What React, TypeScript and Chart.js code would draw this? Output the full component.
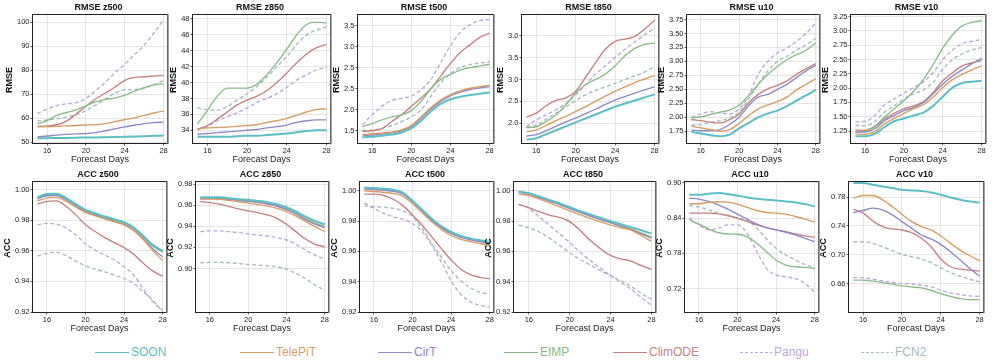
import React, { useEffect, useRef } from "react";
import { Chart, registerables } from "chart.js";

Chart.register(...registerables);

// ---------------- data ----------------
const DAYS = [15, 16, 17, 18, 19, 20, 21, 22, 23, 24, 25, 26, 27, 28];
const X_TICKS = [16, 20, 24, 28];
const MODELS = ["SOON", "TelePiT", "CirT", "EIMP", "ClimODE", "Pangu", "FCN2"];

// series order in every panel: SOON, TelePiT, CirT, EIMP, ClimODE, Pangu, FCN2
const RMSE_Z500 = [
  [51.7, 51.7, 51.8, 51.8, 51.9, 52.0, 52.0, 52.1, 52.2, 52.3, 52.4, 52.5, 52.7, 52.8],
  [56.4, 56.5, 56.6, 56.8, 57.0, 57.2, 57.3, 57.8, 58.6, 59.4, 60.2, 61.2, 62.2, 63.0],
  [52.2, 52.6, 53.0, 53.3, 53.5, 53.6, 54.0, 54.8, 55.6, 56.4, 57.1, 57.8, 58.2, 58.4],
  [57.6, 59.0, 61.2, 62.4, 63.5, 65.2, 66.8, 67.9, 68.4, 69.6, 71.3, 72.8, 73.9, 74.3],
  [56.6, 56.8, 57.3, 58.8, 61.8, 65.0, 68.0, 70.5, 73.0, 75.8, 77.0, 77.3, 77.6, 77.8],
  [62.0, 63.8, 65.3, 66.0, 66.5, 68.3, 71.5, 75.0, 79.0, 82.5, 86.5, 90.5, 95.5, 101.0],
  [58.8, 59.3, 59.8, 60.5, 61.5, 63.2, 65.5, 68.0, 70.5, 71.8, 72.0, 72.5, 74.0, 75.8],
];
const RMSE_Z850 = [
  [33.2, 33.2, 33.2, 33.2, 33.25, 33.3, 33.3, 33.4, 33.5, 33.6, 33.75, 33.9, 34.0, 34.0],
  [34.2, 34.3, 34.35, 34.4, 34.5, 34.6, 34.7, 35.0, 35.2, 35.5, 35.9, 36.3, 36.6, 36.7],
  [33.5, 33.6, 33.7, 33.8, 33.9, 34.0, 34.1, 34.3, 34.45, 34.65, 35.0, 35.2, 35.3, 35.3],
  [34.8, 36.5, 38.3, 39.3, 39.3, 39.3, 39.8, 41.0, 42.5, 44.2, 46.0, 47.3, 47.6, 47.5],
  [34.1, 34.6, 35.4, 36.3, 37.2, 37.8, 38.3, 39.0, 40.0, 41.2, 42.5, 43.6, 44.4, 44.8],
  [34.1, 34.5, 35.2, 35.7, 36.2, 36.8, 37.5, 38.0, 38.6, 39.4, 40.3, 41.0, 41.6, 41.9],
  [36.8, 36.6, 36.5, 37.0, 37.8, 38.6, 39.5, 40.7, 42.0, 43.3, 44.8, 46.0, 46.6, 47.0],
];
const RMSE_T500 = [
  [1.34, 1.36, 1.38, 1.41, 1.46, 1.56, 1.74, 1.96, 2.14, 2.25, 2.31, 2.35, 2.38, 2.41],
  [1.41, 1.43, 1.45, 1.47, 1.52, 1.63, 1.83, 2.05, 2.23, 2.36, 2.45, 2.51, 2.55, 2.58],
  [1.38, 1.40, 1.42, 1.45, 1.50, 1.60, 1.80, 2.02, 2.20, 2.33, 2.42, 2.48, 2.52, 2.55],
  [1.60, 1.67, 1.76, 1.83, 1.88, 1.98, 2.20, 2.50, 2.72, 2.84, 2.94, 3.00, 3.04, 3.08],
  [1.48, 1.50, 1.55, 1.72, 1.88, 2.08, 2.28, 2.50, 2.80, 3.10, 3.36, 3.54, 3.72, 3.82],
  [1.64, 1.88, 2.08, 2.22, 2.27, 2.32, 2.48, 2.72, 3.12, 3.52, 3.84, 4.02, 4.12, 4.14],
  [1.51, 1.52, 1.56, 1.62, 1.72, 1.83, 2.00, 2.32, 2.64, 2.86, 3.00, 3.07, 3.11, 3.14],
];
const RMSE_T850 = [
  [1.63, 1.66, 1.75, 1.84, 1.93, 2.02, 2.11, 2.20, 2.29, 2.38, 2.45, 2.52, 2.59, 2.66],
  [1.81, 1.85, 1.95, 2.06, 2.16, 2.27, 2.38, 2.50, 2.62, 2.73, 2.83, 2.93, 3.01, 3.09],
  [1.71, 1.74, 1.83, 1.93, 2.03, 2.12, 2.22, 2.32, 2.43, 2.53, 2.61, 2.69, 2.76, 2.83],
  [1.90, 1.92, 2.04, 2.19, 2.42, 2.69, 2.88, 3.00, 3.12, 3.31, 3.54, 3.71, 3.80, 3.83],
  [2.14, 2.23, 2.40, 2.52, 2.58, 2.73, 3.05, 3.38, 3.69, 3.87, 3.92, 3.98, 4.15, 4.35],
  [1.92, 2.08, 2.19, 2.31, 2.45, 2.65, 2.88, 3.12, 3.31, 3.50, 3.69, 3.86, 4.02, 4.17],
  [1.90, 1.96, 2.09, 2.23, 2.37, 2.52, 2.65, 2.75, 2.83, 2.91, 3.00, 3.08, 3.17, 3.29],
];
const RMSE_U10 = [
  [1.74, 1.71, 1.68, 1.66, 1.69, 1.80, 1.90, 2.00, 2.07, 2.12, 2.20, 2.30, 2.39, 2.49],
  [1.84, 1.81, 1.78, 1.75, 1.78, 1.89, 2.03, 2.15, 2.22, 2.28, 2.36, 2.49, 2.59, 2.69],
  [1.77, 1.76, 1.76, 1.78, 1.87, 2.00, 2.21, 2.36, 2.41, 2.50, 2.59, 2.71, 2.83, 2.93],
  [1.99, 2.01, 2.05, 2.09, 2.13, 2.22, 2.39, 2.59, 2.77, 2.91, 3.03, 3.12, 3.20, 3.33],
  [1.96, 1.94, 1.91, 1.90, 1.96, 2.06, 2.26, 2.41, 2.51, 2.57, 2.65, 2.77, 2.87, 2.96],
  [2.00, 2.06, 2.10, 2.08, 2.06, 2.15, 2.39, 2.77, 3.00, 3.15, 3.24, 3.36, 3.50, 3.69],
  [1.86, 1.87, 1.91, 1.94, 1.99, 2.09, 2.33, 2.59, 2.83, 3.00, 3.09, 3.20, 3.30, 3.41],
];
const RMSE_V10 = [
  [1.16, 1.16, 1.20, 1.32, 1.42, 1.47, 1.52, 1.57, 1.69, 1.85, 2.01, 2.09, 2.11, 2.13],
  [1.20, 1.19, 1.24, 1.38, 1.47, 1.56, 1.64, 1.71, 1.84, 2.01, 2.15, 2.24, 2.32, 2.39],
  [1.24, 1.23, 1.29, 1.43, 1.52, 1.61, 1.66, 1.75, 1.90, 2.07, 2.21, 2.32, 2.43, 2.52],
  [1.23, 1.24, 1.33, 1.49, 1.64, 1.78, 1.95, 2.15, 2.41, 2.70, 2.93, 3.09, 3.15, 3.18],
  [1.27, 1.26, 1.33, 1.46, 1.56, 1.64, 1.69, 1.76, 1.92, 2.13, 2.27, 2.39, 2.44, 2.48],
  [1.41, 1.42, 1.52, 1.71, 1.81, 1.91, 2.01, 2.11, 2.27, 2.50, 2.67, 2.78, 2.82, 2.85],
  [1.35, 1.34, 1.42, 1.58, 1.69, 1.81, 1.90, 1.97, 2.10, 2.33, 2.50, 2.60, 2.67, 2.71],
];
const ACC_Z500 = [
  [0.9951, 0.9971, 0.9973, 0.9945, 0.9905, 0.9868, 0.9846, 0.9824, 0.9807, 0.9787, 0.9752, 0.9697, 0.9638, 0.9599],
  [0.9927, 0.9945, 0.9949, 0.9923, 0.9886, 0.9851, 0.9829, 0.9809, 0.9789, 0.9770, 0.9732, 0.9672, 0.9600, 0.9536],
  [0.9940, 0.9960, 0.9962, 0.9934, 0.9893, 0.9855, 0.9833, 0.9811, 0.9793, 0.9772, 0.9735, 0.9678, 0.9612, 0.9561],
  [0.9946, 0.9966, 0.9968, 0.9940, 0.9900, 0.9862, 0.9840, 0.9818, 0.9801, 0.9780, 0.9745, 0.9690, 0.9630, 0.9590],
  [0.9905, 0.9923, 0.9927, 0.9890, 0.9835, 0.9770, 0.9726, 0.9686, 0.9653, 0.9621, 0.9577, 0.9518, 0.9467, 0.9434],
  [0.9770, 0.9780, 0.9774, 0.9748, 0.9704, 0.9645, 0.9605, 0.9572, 0.9540, 0.9496, 0.9441, 0.9353, 0.9266, 0.9211],
  [0.9566, 0.9583, 0.9590, 0.9568, 0.9533, 0.9502, 0.9480, 0.9463, 0.9441, 0.9419, 0.9386, 0.9331, 0.9277, 0.9200],
];
const ACC_Z850 = [
  [0.9673, 0.9676, 0.9676, 0.9667, 0.9657, 0.9651, 0.9641, 0.9629, 0.9610, 0.9581, 0.9540, 0.9492, 0.9451, 0.9419],
  [0.9657, 0.9657, 0.9655, 0.9645, 0.9632, 0.9619, 0.9606, 0.9591, 0.9570, 0.9540, 0.9497, 0.9446, 0.9396, 0.9349],
  [0.9663, 0.9665, 0.9664, 0.9655, 0.9644, 0.9636, 0.9625, 0.9611, 0.9590, 0.9558, 0.9514, 0.9464, 0.9420, 0.9387],
  [0.9668, 0.9671, 0.9670, 0.9661, 0.9650, 0.9643, 0.9632, 0.9619, 0.9599, 0.9568, 0.9525, 0.9475, 0.9432, 0.9397],
  [0.9635, 0.9625, 0.9610, 0.9587, 0.9565, 0.9546, 0.9530, 0.9508, 0.9476, 0.9419, 0.9349, 0.9279, 0.9229, 0.9206],
  [0.9349, 0.9356, 0.9356, 0.9349, 0.9340, 0.9327, 0.9317, 0.9308, 0.9292, 0.9270, 0.9229, 0.9175, 0.9127, 0.9086],
  [0.9054, 0.9057, 0.9057, 0.9054, 0.9048, 0.9038, 0.9032, 0.9025, 0.9016, 0.8994, 0.8952, 0.8905, 0.8841, 0.8794],
];
const ACC_T500 = [
  [1.0022, 1.0018, 1.0013, 1.0007, 0.9988, 0.9935, 0.9875, 0.9815, 0.9765, 0.9729, 0.9702, 0.9686, 0.9674, 0.9663],
  [1.0000, 0.9995, 0.9990, 0.9982, 0.9965, 0.9915, 0.9855, 0.9795, 0.9745, 0.9705, 0.9680, 0.9665, 0.9652, 0.9640],
  [1.0012, 1.0008, 1.0003, 0.9996, 0.9978, 0.9926, 0.9866, 0.9806, 0.9755, 0.9718, 0.9692, 0.9676, 0.9664, 0.9652],
  [1.0018, 1.0013, 1.0008, 1.0001, 0.9983, 0.9930, 0.9870, 0.9810, 0.9760, 0.9722, 0.9696, 0.9680, 0.9668, 0.9657],
  [0.9978, 0.9978, 0.9969, 0.9944, 0.9902, 0.9840, 0.9773, 0.9696, 0.9618, 0.9544, 0.9484, 0.9447, 0.9429, 0.9418],
  [0.9918, 0.9884, 0.9851, 0.9829, 0.9813, 0.9784, 0.9729, 0.9640, 0.9529, 0.9407, 0.9318, 0.9267, 0.9244, 0.9233],
  [0.9900, 0.9896, 0.9891, 0.9884, 0.9867, 0.9829, 0.9751, 0.9651, 0.9562, 0.9473, 0.9407, 0.9360, 0.9330, 0.9318],
];
const ACC_T850 = [
  [0.9996, 0.9984, 0.9962, 0.9940, 0.9918, 0.9891, 0.9867, 0.9844, 0.9822, 0.9800, 0.9780, 0.9760, 0.9740, 0.9718],
  [0.9978, 0.9969, 0.9946, 0.9922, 0.9895, 0.9867, 0.9842, 0.9818, 0.9795, 0.9773, 0.9756, 0.9740, 0.9705, 0.9667],
  [0.9990, 0.9978, 0.9955, 0.9932, 0.9909, 0.9882, 0.9857, 0.9833, 0.9810, 0.9788, 0.9767, 0.9744, 0.9716, 0.9688],
  [0.9992, 0.9980, 0.9958, 0.9935, 0.9912, 0.9885, 0.9860, 0.9836, 0.9813, 0.9791, 0.9770, 0.9748, 0.9722, 0.9696],
  [0.9911, 0.9889, 0.9862, 0.9840, 0.9824, 0.9796, 0.9740, 0.9673, 0.9618, 0.9573, 0.9551, 0.9536, 0.9507, 0.9480],
  [0.9911, 0.9884, 0.9829, 0.9773, 0.9718, 0.9658, 0.9596, 0.9540, 0.9489, 0.9440, 0.9396, 0.9351, 0.9296, 0.9244],
  [0.9773, 0.9756, 0.9729, 0.9689, 0.9640, 0.9591, 0.9547, 0.9511, 0.9473, 0.9440, 0.9407, 0.9369, 0.9324, 0.9284],
];
const ACC_U10 = [
  [0.8800, 0.8800, 0.8817, 0.8829, 0.8811, 0.8783, 0.8754, 0.8731, 0.8714, 0.8703, 0.8686, 0.8669, 0.8640, 0.8600],
  [0.8646, 0.8646, 0.8669, 0.8680, 0.8674, 0.8640, 0.8583, 0.8531, 0.8497, 0.8486, 0.8469, 0.8429, 0.8383, 0.8331],
  [0.8743, 0.8726, 0.8686, 0.8629, 0.8554, 0.8469, 0.8383, 0.8297, 0.8240, 0.8200, 0.8160, 0.8114, 0.8057, 0.8000],
  [0.8371, 0.8297, 0.8217, 0.8154, 0.8131, 0.8126, 0.8086, 0.7971, 0.7829, 0.7686, 0.7600, 0.7571, 0.7560, 0.7543],
  [0.8486, 0.8486, 0.8486, 0.8474, 0.8446, 0.8400, 0.8343, 0.8286, 0.8240, 0.8200, 0.8171, 0.8131, 0.8097, 0.8074],
  [0.8400, 0.8286, 0.8200, 0.8229, 0.8286, 0.8286, 0.8143, 0.7829, 0.7543, 0.7429, 0.7400, 0.7371, 0.7286, 0.7143],
  [0.8617, 0.8589, 0.8543, 0.8486, 0.8440, 0.8400, 0.8371, 0.8229, 0.8046, 0.7886, 0.7771, 0.7686, 0.7611, 0.7554],
];
const ACC_V10 = [
  [0.7995, 0.7995, 0.7972, 0.7949, 0.7926, 0.7902, 0.7893, 0.7884, 0.7865, 0.7833, 0.7795, 0.7763, 0.7740, 0.7726],
  [0.7786, 0.7823, 0.7823, 0.7763, 0.7670, 0.7563, 0.7460, 0.7391, 0.7344, 0.7260, 0.7158, 0.7065, 0.6986, 0.6916],
  [0.7586, 0.7614, 0.7647, 0.7623, 0.7553, 0.7460, 0.7367, 0.7274, 0.7219, 0.7144, 0.7042, 0.6926, 0.6809, 0.6702],
  [0.6647, 0.6647, 0.6633, 0.6614, 0.6591, 0.6567, 0.6553, 0.6540, 0.6507, 0.6460, 0.6423, 0.6391, 0.6377, 0.6377],
  [0.7633, 0.7577, 0.7470, 0.7391, 0.7358, 0.7344, 0.7307, 0.7228, 0.7112, 0.6940, 0.6833, 0.6800, 0.6786, 0.6772],
  [0.6684, 0.6679, 0.6660, 0.6637, 0.6614, 0.6600, 0.6591, 0.6577, 0.6553, 0.6507, 0.6470, 0.6447, 0.6428, 0.6423],
  [0.7181, 0.7181, 0.7158, 0.7112, 0.7056, 0.7005, 0.6972, 0.6940, 0.6893, 0.6819, 0.6753, 0.6702, 0.6660, 0.6623],
];

// y tick values and the labels printed at them
const T_Z500 = [50, 60, 70, 80, 90, 100];
const L_Z500 = ["50", "60", "70", "80", "90", "100"];
const T_Z850 = [34, 36, 38, 40, 42, 44, 46, 48];
const L_Z850 = ["34", "36", "38", "40", "42", "44", "46", "48"];
const T_T500 = [1.5, 2.0, 2.5, 3.0, 3.5, 4.0];
const L_T500 = ["1.5", "2.0", "2.5", "2.5", "3.0", "3.5"];
const T_T850 = [2.0, 2.5, 3.0, 3.5, 4.0];
const L_T850 = ["2.0", "2.5", "3.0", "3.5", "3.0"];
const T_U10 = [1.75, 2.0, 2.25, 2.5, 2.75, 3.0, 3.25, 3.5, 3.75];
const L_U10 = ["1.75", "2.00", "2.25", "2.50", "2.75", "3.00", "3.25", "3.50", "3.75"];
const T_V10 = [1.25, 1.5, 1.75, 2.0, 2.25, 2.5, 2.75, 3.0, 3.25];
const L_V10 = ["1.25", "1.50", "1.75", "2.00", "2.25", "2.50", "2.75", "3.00", "3.25"];
const T_ACC = [0.92, 0.94, 0.96, 0.98, 1.0];
const L_ACC = ["0.92", "0.94", "0.96", "0.98", "1.00"];
const T_ACC_Z850 = [0.9, 0.92, 0.94, 0.96, 0.98];
const L_ACC_Z850 = ["0.90", "0.92", "0.94", "0.96", "0.98"];
const T_ACC_U10 = [0.72, 0.78, 0.84, 0.9];
const L_ACC_U10 = ["0.72", "0.78", "0.84", "0.90"];
const T_ACC_V10 = [0.66, 0.7, 0.74, 0.78];
const L_ACC_V10 = ["0.66", "0.70", "0.74", "0.78"];

// ---------------- styles ----------------
const COLORS = ["#5dbfc6", "#d79c60", "#8f87c6", "#86bc84", "#c47f7f", "#b9a7dc", "#a0bcbd"];
const DASHED = [false, false, false, false, false, true, true];
const FONT = '"Liberation Sans", Arial, Helvetica, sans-serif';
const GRID = "#dedede";
const TEXT = "#222";
const Y_W = 33;
const R_PAD = 6;
const X_H = 24;
const X_MIN = 14.55;
const X_MAX = 28.35;
const TICK_FONT_SIZE = 7.5;

type PanelCfg = {
  title: string;
  yTitle: string;
  series: number[][];
  yMin: number;
  yMax: number;
  ticks: number[];
  labels: string[];
  plot: [number, number, number, number];
  canvasTop: number;
};

const PANELS: PanelCfg[] = [
  { title: "RMSE z500", yTitle: "RMSE", series: RMSE_Z500, yMin: 49.7, yMax: 103, ticks: T_Z500, labels: L_Z500, plot: [33, 15, 167, 143], canvasTop: 0 },
  { title: "RMSE z850", yTitle: "RMSE", series: RMSE_Z850, yMin: 32.4, yMax: 48.5, ticks: T_Z850, labels: L_Z850, plot: [193, 15, 330, 143], canvasTop: 0 },
  { title: "RMSE t500", yTitle: "RMSE", series: RMSE_T500, yMin: 1.21, yMax: 4.25, ticks: T_T500, labels: L_T500, plot: [358, 15, 493, 143], canvasTop: 0 },
  { title: "RMSE t850", yTitle: "RMSE", series: RMSE_T850, yMin: 1.55, yMax: 4.47, ticks: T_T850, labels: L_T850, plot: [522, 15, 658, 143], canvasTop: 0 },
  { title: "RMSE u10", yTitle: "RMSE", series: RMSE_U10, yMin: 1.54, yMax: 3.83, ticks: T_U10, labels: L_U10, plot: [687, 15, 819, 143], canvasTop: 0 },
  { title: "RMSE v10", yTitle: "RMSE", series: RMSE_V10, yMin: 1.04, yMax: 3.28, ticks: T_V10, labels: L_V10, plot: [851, 15, 985, 143], canvasTop: 0 },
  { title: "ACC z500", yTitle: "ACC", series: ACC_Z500, yMin: 0.92, yMax: 1.005, ticks: T_ACC, labels: L_ACC, plot: [33, 182, 166, 312], canvasTop: 167 },
  { title: "ACC z850", yTitle: "ACC", series: ACC_Z850, yMin: 0.8587, yMax: 0.982, ticks: T_ACC_Z850, labels: L_ACC_Z850, plot: [196, 182, 328, 312], canvasTop: 167 },
  { title: "ACC t500", yTitle: "ACC", series: ACC_T500, yMin: 0.92, yMax: 1.0058, ticks: T_ACC, labels: L_ACC, plot: [360, 182, 493, 312], canvasTop: 167 },
  { title: "ACC t850", yTitle: "ACC", series: ACC_T850, yMin: 0.92, yMax: 1.0058, ticks: T_ACC, labels: L_ACC, plot: [514, 182, 655, 312], canvasTop: 167 },
  { title: "ACC u10", yTitle: "ACC", series: ACC_U10, yMin: 0.68, yMax: 0.9017, ticks: T_ACC_U10, labels: L_ACC_U10, plot: [685, 182, 818, 312], canvasTop: 167 },
  { title: "ACC v10", yTitle: "ACC", series: ACC_V10, yMin: 0.6205, yMax: 0.801, ticks: T_ACC_V10, labels: L_ACC_V10, plot: [849, 182, 983, 312], canvasTop: 167 },
];

const LEGEND_X = [95, 240, 378, 504, 613, 740, 861];

// draws frame, panel title and rotated y-axis title
const decorPlugin = {
  id: "panelDecor",
  afterDraw(chart: any, _args: any, opts: any) {
    const { ctx, chartArea: a } = chart;
    ctx.save();
    ctx.strokeStyle = "#222";
    ctx.lineWidth = 1;
    ctx.strokeRect(a.left - 0.5, a.top - 0.5, a.right - a.left + 1, a.bottom - a.top + 1);
    ctx.strokeStyle = "#666";
    ctx.lineWidth = 1.6;
    ctx.beginPath();
    ctx.moveTo(a.right + 0.8, a.top - 1);
    ctx.lineTo(a.right + 0.8, a.bottom + 1);
    ctx.stroke();

    ctx.fillStyle = "#111";
    ctx.textAlign = "center";
    ctx.textBaseline = "middle";
    ctx.font = `bold 9px ${FONT}`;
    ctx.fillText(opts.title, (a.left + a.right) / 2 - 1.5, a.top - 7);

    const yScale = chart.scales.y;
    ctx.font = `${TICK_FONT_SIZE}px ${FONT}`;
    let maxW = 0;
    for (const t of yScale.ticks) {
      const w = ctx.measureText(String(t.label ?? "")).width;
      if (w > maxW) maxW = w;
    }
    const x = a.left - 2.5 - 1 - maxW - 7.5;
    ctx.font = `bold 9px ${FONT}`;
    ctx.translate(x, (a.top + a.bottom) / 2 + 1);
    ctx.rotate(-Math.PI / 2);
    ctx.fillText(opts.yTitle, 0, 0);
    ctx.restore();
  },
};

function Panel({ cfg }: { cfg: PanelCfg }) {
  const ref = useRef<HTMLCanvasElement>(null);
  const [l, t, r, b] = cfg.plot;
  const cLeft = l - Y_W;
  const cTop = cfg.canvasTop;
  const w = r - l + Y_W + R_PAD;
  const h = b - cTop + X_H;

  useEffect(() => {
    const chart = new Chart(ref.current as HTMLCanvasElement, {
      type: "line",
      data: {
        datasets: MODELS.map((m, i) => ({
          label: m,
          data: DAYS.map((d, j) => ({ x: d, y: cfg.series[i][j] })),
          borderColor: COLORS[i],
          backgroundColor: COLORS[i],
          borderWidth: i === 0 ? 2 : 1.35,
          borderDash: DASHED[i] ? [4, 2.5] : [],
          pointRadius: 0,
          cubicInterpolationMode: "monotone" as const,
          fill: false,
        })),
      },
      options: {
        responsive: false,
        animation: false,
        devicePixelRatio: 1,
        layout: { padding: { left: 0, right: R_PAD, top: t - cTop, bottom: 0 } },
        plugins: {
          legend: { display: false },
          tooltip: { enabled: false },
          title: { display: false },
          panelDecor: { title: cfg.title, yTitle: cfg.yTitle },
        } as any,
        scales: {
          x: {
            type: "linear",
            min: X_MIN,
            max: X_MAX,
            afterBuildTicks: (s: any) => {
              s.ticks = X_TICKS.map((v) => ({ value: v }));
            },
            afterFit: (s: any) => {
              s.height = X_H;
            },
            ticks: {
              autoSkip: false,
              maxRotation: 0,
              padding: 1,
              color: TEXT,
              font: { family: FONT, size: TICK_FONT_SIZE },
              callback: (v: any) => String(v),
            },
            grid: { color: GRID, lineWidth: 0.8, tickColor: "#333", tickLength: 2.5, drawTicks: true },
            border: { display: false },
            title: {
              display: true,
              text: "Forecast Days",
              color: TEXT,
              font: { family: FONT, size: 9 },
              padding: { top: 0, bottom: 2 },
            },
          },
          y: {
            type: "linear",
            min: cfg.yMin,
            max: cfg.yMax,
            afterBuildTicks: (s: any) => {
              s.ticks = cfg.ticks.map((v) => ({ value: v }));
            },
            afterFit: (s: any) => {
              s.width = Y_W;
            },
            ticks: {
              autoSkip: false,
              padding: 1,
              color: TEXT,
              font: { family: FONT, size: TICK_FONT_SIZE },
              callback: (_v: any, idx: number) => cfg.labels[idx] ?? "",
            },
            grid: { color: GRID, lineWidth: 0.8, tickColor: "#333", tickLength: 2.5, drawTicks: true },
            border: { display: false },
          },
        },
      },
      plugins: [decorPlugin],
    });
    return () => chart.destroy();
  }, []);

  return (
    <canvas
      ref={ref}
      width={w}
      height={h}
      style={{ position: "absolute", left: cLeft, top: cTop, width: w, height: h }}
    />
  );
}

function LegendItem({ i }: { i: number }) {
  const color = COLORS[i];
  const sample: React.CSSProperties = DASHED[i]
    ? { width: 32, height: 1.5, background: `repeating-linear-gradient(to right, ${color} 0 3px, transparent 3px 5px)` }
    : { width: 34, height: 1.5, background: color };
  return (
    <div
      style={{
        position: "absolute",
        left: LEGEND_X[i],
        top: 344,
        height: 17,
        display: "flex",
        alignItems: "center",
        whiteSpace: "nowrap",
      }}
    >
      <div style={sample} />
      <span style={{ marginLeft: 2, color, fontFamily: FONT, fontSize: 12, lineHeight: "17px" }}>{MODELS[i]}</span>
    </div>
  );
}

export default function App() {
  return (
    <div style={{ position: "absolute", left: 0, top: 0, width: 996, height: 363, background: "#fff", overflow: "hidden" }}>
      {PANELS.map((p, i) => (
        <Panel key={i} cfg={p} />
      ))}
      {MODELS.map((_, i) => (
        <LegendItem key={i} i={i} />
      ))}
    </div>
  );
}
